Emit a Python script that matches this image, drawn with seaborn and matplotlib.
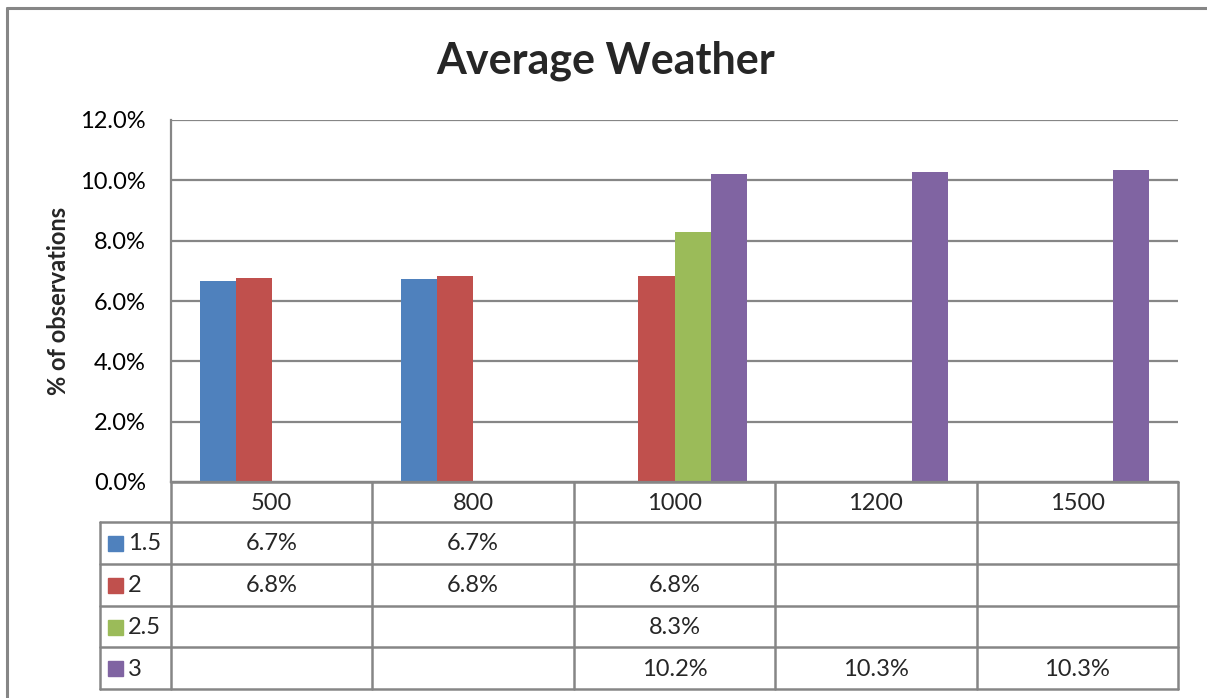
"""Average Weather: grouped bars with an Excel-style data table."""

import numpy as np
import pandas as pd
import matplotlib
matplotlib.use("Agg")
import matplotlib.pyplot as plt
from matplotlib.lines import Line2D
from matplotlib.patches import Rectangle
from matplotlib.ticker import FuncFormatter, MultipleLocator
import seaborn as sns

# data (percent of observations)
categories = ["500", "800", "1000", "1200", "1500"]
series_names = ["1.5", "2", "2.5", "3"]
vals_15 = [6.66, 6.72, np.nan, np.nan, np.nan]
vals_2 = [6.76, 6.83, 6.83, np.nan, np.nan]
vals_25 = [np.nan, np.nan, 8.29, np.nan, np.nan]
vals_3 = [np.nan, np.nan, 10.21, 10.27, 10.33]
colors = ["#4F81BD", "#C0504D", "#9BBB59", "#8064A2"]

series_vals = [vals_15, vals_2, vals_25, vals_3]

rows = []
for name, vals in zip(series_names, series_vals):
    for cat, v in zip(categories, vals):
        if not np.isnan(v):
            rows.append({"cat": cat, "series": name, "value": v / 100})
df = pd.DataFrame(rows)

sns.set_theme(style="white")
plt.rcParams["font.family"] = ["Lato", "DejaVu Sans"]

W, H = 1207, 698
fig = plt.figure(figsize=(W / 100, H / 100), dpi=100)
fig.patch.set_facecolor("white")

GRID = "#868686"
FS = 17

# plot area (pixel layout)
px_l, px_r, px_t, px_b = 171, 1178, 120, 482
ax = fig.add_axes([px_l / W, 1 - px_b / H, (px_r - px_l) / W, (px_b - px_t) / H])

sns.barplot(
    data=df, x="cat", y="value", hue="series",
    order=categories, hue_order=series_names, palette=colors,
    width=0.715, errorbar=None, linewidth=0, saturation=1, ax=ax,
)
ax.set_xlim(-0.5, len(categories) - 0.5)
ax.set_ylim(0, 0.12)
ax.yaxis.set_major_locator(MultipleLocator(0.02))
ax.yaxis.set_major_formatter(FuncFormatter(lambda v, _: f"{v * 100:.1f}%"))
ax.grid(axis="y", color=GRID, linewidth=1.6)
ax.set_axisbelow(True)
ax.tick_params(axis="y", length=0, labelsize=FS, pad=18, colors="black")
ax.set_xticks([])
ax.set_xlabel("")
ax.set_ylabel("% of observations", fontsize=FS, fontweight="bold")
ax.yaxis.set_label_coords((70 - px_l) / (px_r - px_l), 0.5)
for side in ["top", "right"]:
    ax.spines[side].set_visible(False)
for side in ["left", "bottom"]:
    ax.spines[side].set_color(GRID)
    ax.spines[side].set_linewidth(1.6)
if ax.get_legend() is not None:
    ax.get_legend().remove()

fig.text(606 / W, 1 - 61 / H, "Average Weather", fontsize=31, fontweight="bold",
         ha="center", va="center")

# data table under the plot
tax = fig.add_axes([0, 0, 1, 1])
tax.set_xlim(0, W)
tax.set_ylim(H, 0)
tax.axis("off")

n_cat = len(categories)
col_w = (px_r - px_l) / n_cat
col_edges = [px_l + col_w * i for i in range(n_cat + 1)]
row_top = px_b
head_h = 40
row_h = 41.8
row_edges = [row_top + head_h + row_h * i for i in range(len(series_names) + 1)]
leg_l = 100

lw = 1.8
# header row
tax.add_line(Line2D([px_l, px_r], [row_top, row_top], color=GRID, lw=lw))
for x in col_edges:
    tax.add_line(Line2D([x, x], [row_top, row_edges[-1]], color=GRID, lw=lw))
for y in row_edges:
    tax.add_line(Line2D([leg_l, px_r], [y, y], color=GRID, lw=lw))
tax.add_line(Line2D([leg_l, leg_l], [row_edges[0], row_edges[-1]], color=GRID, lw=lw))

for i, cat in enumerate(categories):
    cx = (col_edges[i] + col_edges[i + 1]) / 2
    tax.text(cx, row_top + head_h / 2 + 1, cat, ha="center", va="center", fontsize=FS)

for r, (name, vals, col) in enumerate(zip(series_names, series_vals, colors)):
    cy = (row_edges[r] + row_edges[r + 1]) / 2
    tax.add_patch(Rectangle((108, cy - 7), 15, 15, color=col))
    tax.text(128, cy + 1, name, ha="left", va="center", fontsize=FS)
    for i, v in enumerate(vals):
        if np.isnan(v):
            continue
        cx = (col_edges[i] + col_edges[i + 1]) / 2
        tax.text(cx, cy + 1, f"{v:.1f}%", ha="center", va="center", fontsize=FS)

# chart area border
tax.add_line(Line2D([7, 7], [8, H], color=GRID, lw=2.2))
tax.add_line(Line2D([7, W], [8, 8], color=GRID, lw=2.2))

fig.savefig("out.png", dpi=100, facecolor="white")
